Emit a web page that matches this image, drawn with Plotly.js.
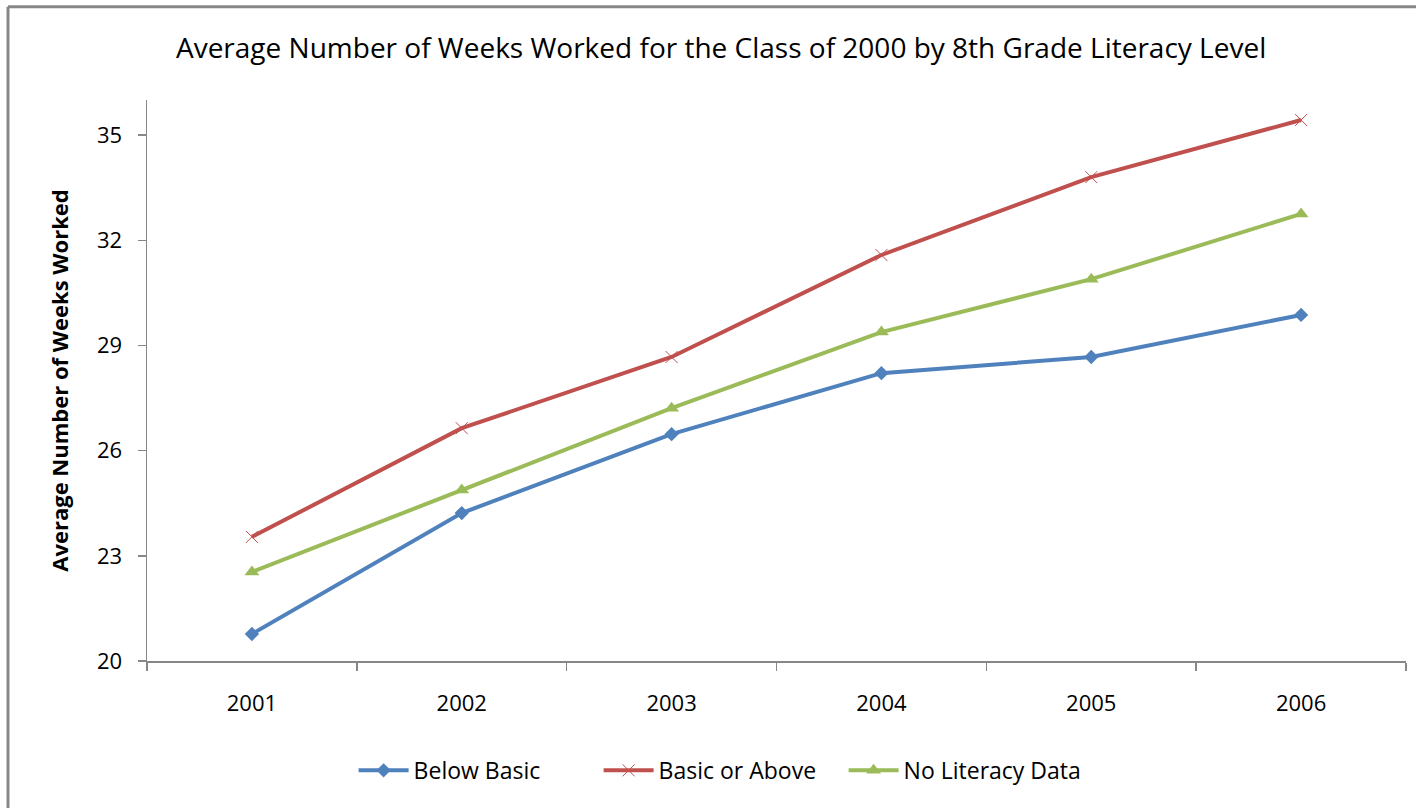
<!DOCTYPE html>
<html>
<head>
<meta charset="utf-8">
<script src="https://cdn.plot.ly/plotly-3.0.1.min.js"></script>
<style>
html,body{margin:0;padding:0;background:#fff;}
#chart{width:1416px;height:808px;}
</style>
</head>
<body>
<div id="chart"></div>
<script>
const years = ["2001","2002","2003","2004","2005","2006"];
const belowBasic = [20.77, 24.22, 26.47, 28.21, 28.67, 29.87];
const basicOrAbove = [23.54, 26.64, 28.67, 31.58, 33.80, 35.43];
const noLiteracyData = [22.54, 24.88, 27.21, 29.38, 30.89, 32.75];
const yTicks = [20, 23, 26, 29, 32, 35];

const FONT = "Open Sans, Noto Sans, sans-serif";

const traces = [
  {x: years, y: belowBasic, name: "Below Basic", type: "scatter", mode: "lines+markers",
   line: {color: "#4F81BD", width: 4}, marker: {symbol: "diamond", size: 11, color: "#4F81BD"}},
  {x: years, y: basicOrAbove, name: "Basic or Above", type: "scatter", mode: "lines+markers",
   line: {color: "#C0504D", width: 4}, marker: {symbol: "x-thin-open", size: 12, color: "#C0504D", line: {color: "#C0504D", width: 1}}},
  {x: years, y: noLiteracyData, name: "No Literacy Data", type: "scatter", mode: "lines+markers",
   line: {color: "#9BBB59", width: 4}, marker: {symbol: "triangle-up", size: 13, color: "#9BBB59"}}
];

const layout = {
  width: 1416, height: 808,
  paper_bgcolor: "#fff", plot_bgcolor: "#fff",
  margin: {l: 147, r: 10, t: 100, b: 147},
  font: {family: FONT, color: "#000"},
  title: {text: "Average Number of Weeks Worked for the Class of 2000 by 8th Grade Literacy Level",
          font: {family: FONT, size: 28, color: "#000"}, x: 0.456, xref: "paper", xanchor: "center", y: 0.94, yanchor: "middle"},
  xaxis: {type: "category", range: [-0.5, 5.5], tickson: "boundaries", ticks: "outside", ticklen: 8,
          tickcolor: "#878787", tickwidth: 1.5, showline: true, linecolor: "#878787", linewidth: 1.5,
          showgrid: false, zeroline: false, tickfont: {family: FONT, size: 22, color: "#000"}, ticklabelstandoff: 22},
  yaxis: {range: [20, 36], tickvals: yTicks, ticktext: yTicks.map(String), ticks: "outside", ticklen: 8,
          tickcolor: "#878787", tickwidth: 1.5, showline: true, linecolor: "#878787", linewidth: 1.5,
          showgrid: false, zeroline: false, tickfont: {family: FONT, size: 22, color: "#000"}, ticklabelstandoff: 11,
          title: {text: "<b>Average Number of Weeks Worked</b>", font: {family: FONT, size: 22, color: "#000"}, standoff: 22}},
  legend: {orientation: "h", x: 0.456, xanchor: "center", y: -0.195, yanchor: "middle",
           font: {family: FONT, size: 23, color: "#000"}, itemwidth: 50, entrywidth: 180, entrywidthmode: "pixels", tracegroupgap: 0},
  shapes: [
    {type: "line", xref: "paper", yref: "paper", x0: -0.1104, x1: -0.1104, y0: 1.166, y1: -0.3, line: {color: "#878787", width: 3}},
    {type: "line", xref: "paper", yref: "paper", x0: -0.1104, x1: 1.02, y0: 1.166, y1: 1.166, line: {color: "#878787", width: 3}}
  ],
  showlegend: true
};

Plotly.newPlot("chart", traces, layout, {displayModeBar: false, staticPlot: true});
</script>
</body>
</html>
